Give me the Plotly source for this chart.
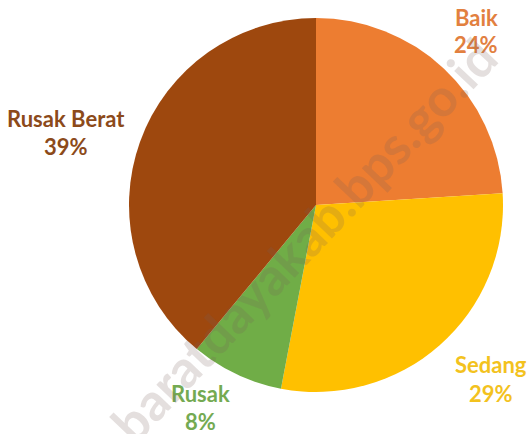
import plotly.graph_objects as go

categories = ["Baik", "Sedang", "Rusak", "Rusak Berat"]
values = [24, 29, 8, 39]
slice_colors = ["#ED7D31", "#FFC000", "#70AD47", "#9E480E"]
label_colors = ["#E2803F", "#F3C21E", "#74AA52", "#8C4A1A"]
watermark = "baratdayakab.bps.go.id"

W, H = 530, 434

def px(x):
    return x / W

def py(y):
    return 1 - y / H

# label centres in screen pixels: (x, y line1, y line2)
label_pix = [(476, 17, 45), (491, 364, 393), (200, 393, 421), (66, 118, 147)]

cx, cy, r = 316, 205, 187

fig = go.Figure()
fig.add_trace(go.Pie(
    labels=categories,
    values=values,
    sort=False,
    direction="clockwise",
    rotation=0,
    marker=dict(colors=slice_colors, line=dict(width=0)),
    textinfo="none",
    hoverinfo="label+percent",
    showlegend=False,
    domain=dict(x=[px(cx - r), px(cx + r)], y=[py(cy + r), py(cy - r)]),
))

total = sum(values)
annotations = []
for cat, val, col, (lx, ly1, ly2) in zip(categories, values, label_colors, label_pix):
    for txt, ly in ((cat, ly1), (f"{round(100 * val / total)}%", ly2)):
        annotations.append(dict(
            x=px(lx), y=py(ly), xref="paper", yref="paper",
            text=f"<b>{txt}</b>",
            showarrow=False,
            font=dict(family="Lato", size=22, color=col),
            align="center", xanchor="center", yanchor="middle",
            borderpad=0,
        ))

annotations.append(dict(
    x=px(303), y=py(240), xref="paper", yref="paper",
    text=f"<b>{watermark}</b>",
    showarrow=False, textangle=-46.5,
    font=dict(family="Lato", size=52, color="rgba(120,95,90,0.2)"),
    xanchor="center", yanchor="middle",
))

fig.update_layout(
    width=W, height=H,
    margin=dict(l=0, r=0, t=0, b=0),
    paper_bgcolor="white",
    plot_bgcolor="white",
    annotations=annotations,
)

fig.write_html(
    "out.html",
    config={"displayModeBar": False},
    post_script="document.body.style.margin='0';document.body.style.overflow='hidden';",
)
